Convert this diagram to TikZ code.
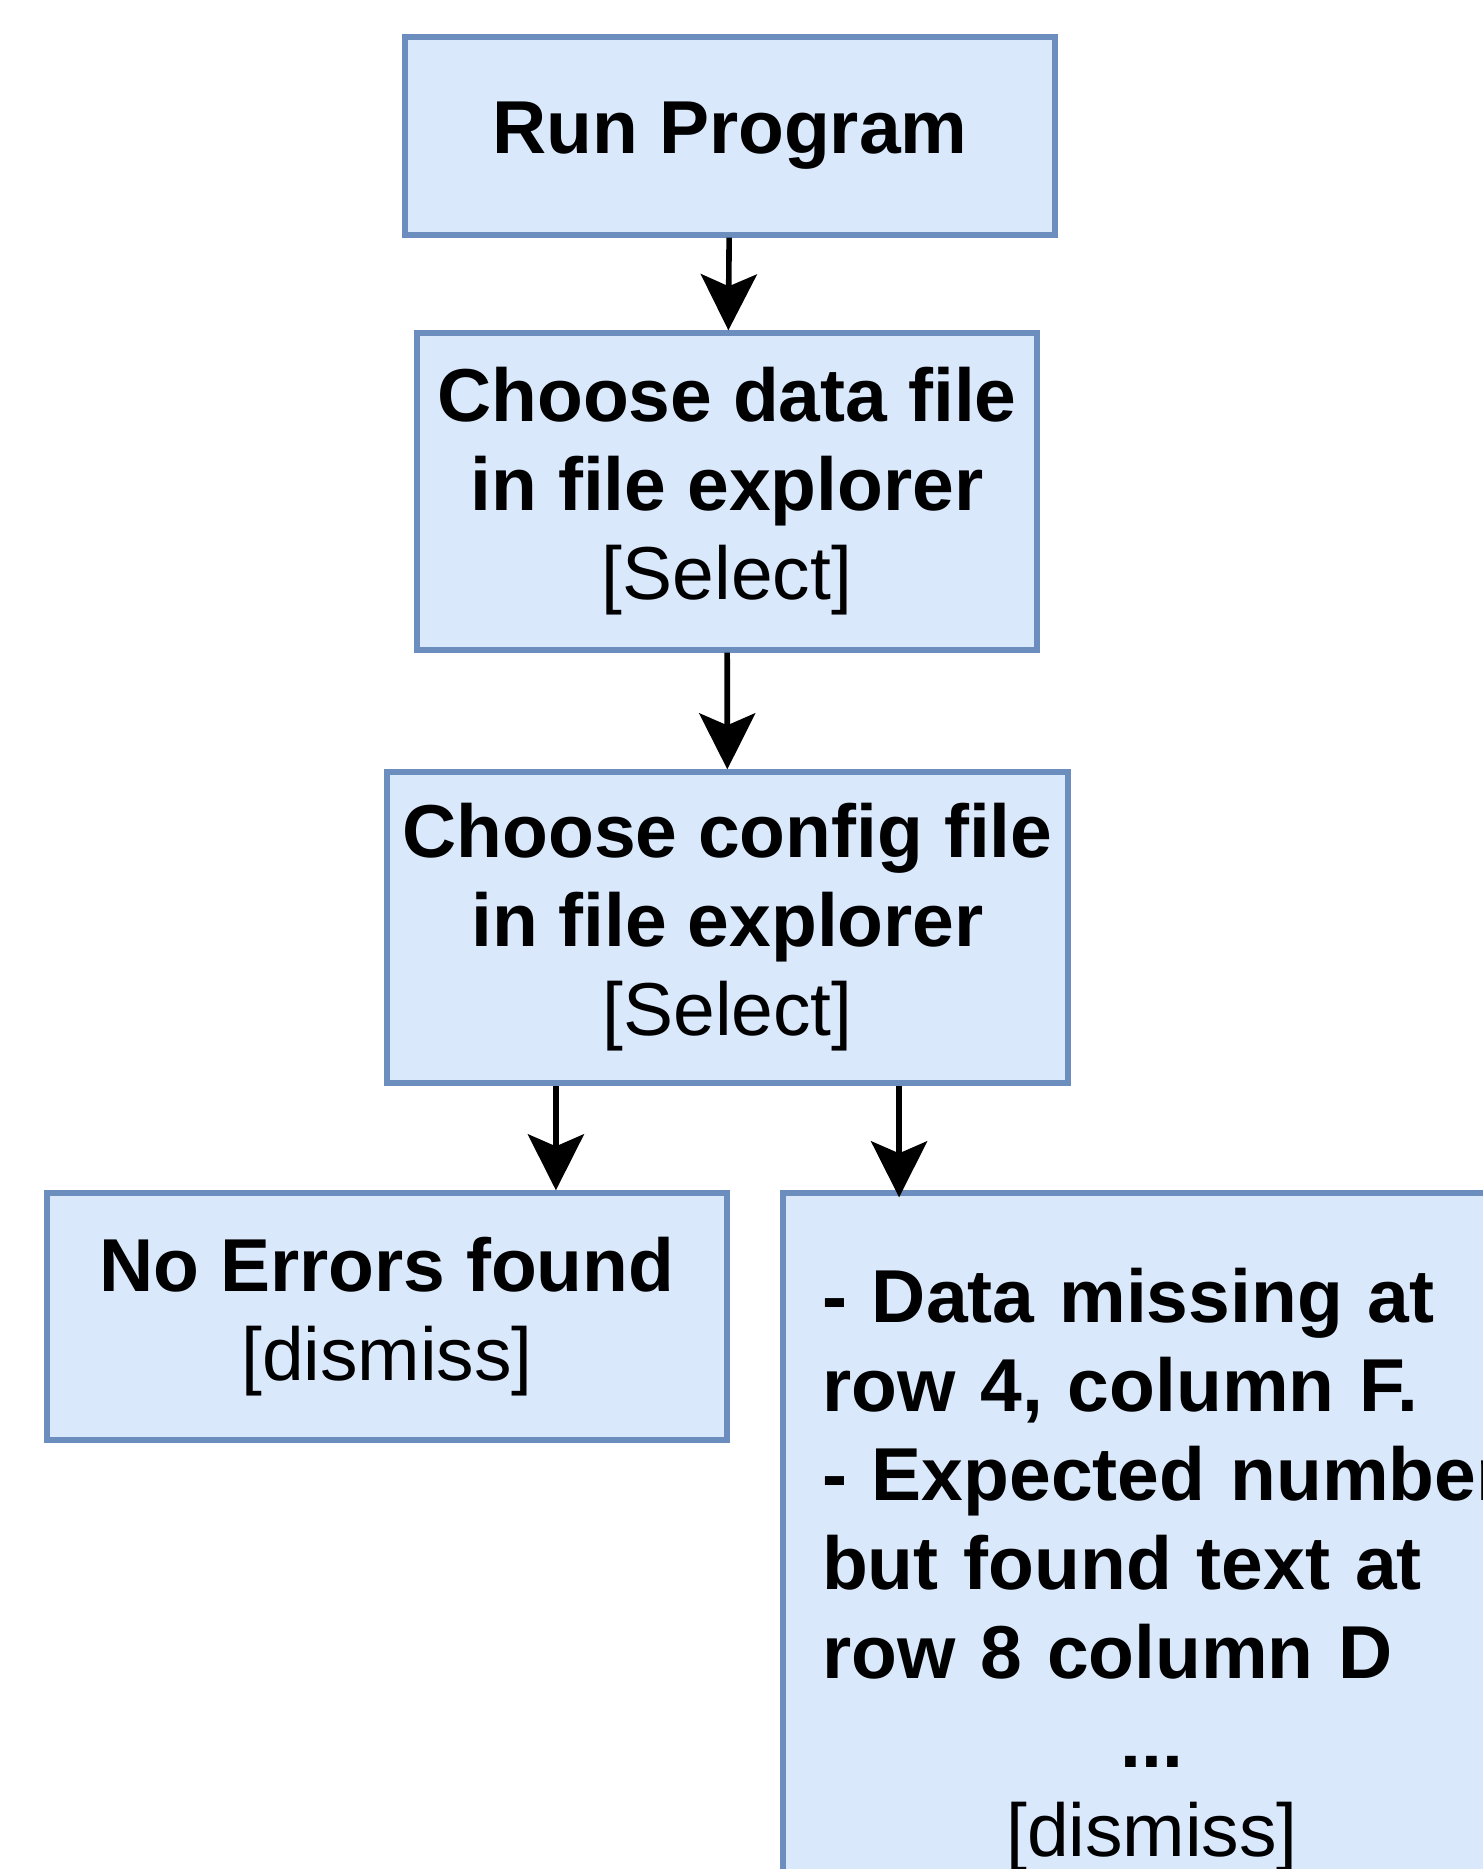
\documentclass[tikz,border=0pt]{standalone}
\usepackage{fontspec}
\setmainfont{Liberation Sans}
\usetikzlibrary{arrows.meta,calc}
\definecolor{boxfill}{HTML}{DAE8FC}
\definecolor{boxline}{HTML}{6C8EBF}
\begin{document}
\begin{tikzpicture}[x=0.5pt,y=-0.5pt,
  every node/.style={draw=boxline,fill=boxfill,line width=2.7pt,inner sep=4pt,align=center,
    font=\fontsize{37.5pt}{44.5pt}\selectfont},
  arr/.style={line width=2.8pt,-{Stealth[length=28pt,width=28pt,inset=6pt]}}
]
    \useasboundingbox (0,0) rectangle (1483,1869);
    \clip (0,0) rectangle (1483,1869);
    \node[minimum width=325pt,minimum height=99pt] (run) at (730,136) {\textbf{Run Program}};
    \node[minimum width=310pt,minimum height=158.5pt] (data) at (727,491.5)
      {\textbf{Choose data file}\\ \textbf{in file explorer}\\ {[Select]}};
    \node[minimum width=340.5pt,minimum height=155.5pt] (cfg) at (727.5,927.5)
      {\textbf{Choose config file}\\ \textbf{in file explorer}\\ {[Select]}};
    \node[minimum width=340pt,minimum height=123.5pt] (ok) at (387,1316.5)
      {\textbf{No Errors found}\\ {[dismiss]}};
    \node[minimum width=369pt,minimum height=377pt,text width=330pt,inner xsep=19.5pt,align=left] (errs) at (1152,1570)
      {\textbf{- Data missing at}\\ \textbf{row 4, column F.}\\ \mbox{\textbf{- Expected number}}\\
       \textbf{but found text at}\\ \textbf{row 8 column D}\\ \makebox[330pt]{\textbf{...}}\\ \makebox[330pt]{[dismiss]}};
    \coordinate (c1) at ($(cfg.south west)!.25!(cfg.south east)$);
    \coordinate (c2) at ($(cfg.south west)!.75!(cfg.south east)$);
    \draw[arr] (run) -- (data);
    \draw[arr] (data) -- (cfg);
    \draw[arr] (c1) -- (c1 |- ok.north);
    \draw[arr,shorten >=-3.5pt] (c2) -- (c2 |- errs.north);
\end{tikzpicture}
\end{document}
